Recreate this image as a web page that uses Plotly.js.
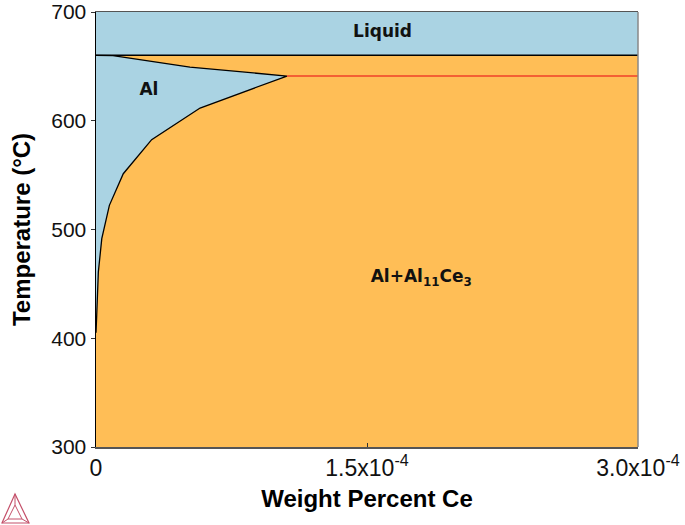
<!DOCTYPE html>
<html><head><meta charset="utf-8">
<script src="https://cdn.plot.ly/plotly-3.0.1.min.js"></script>
<style>html,body{margin:0;padding:0;background:#fff}</style>
</head><body>
<div id="chart" style="width:685px;height:525px"></div>
<script>
// Phase-diagram data (x in weight percent Ce, T in °C)
const xRange = [0, 3.0e-4];
const tRange = [300, 700];
const liquidusT = 660.2;
const eutecticT = 641.1;
const eutecticX = 1.057e-4;
// upper boundary of the Al (fcc) field, from pure Al to eutectic point
const solidusX = [0, 0.094e-4, 0.52e-4, 1.057e-4];
const solidusT = [660.2, 659.8, 649.4, 641.1];
// solvus, from eutectic point down to pure Al
const solvusX = [1.057e-4, 0.576e-4, 0.308e-4, 0.151e-4, 0.074e-4, 0.032e-4, 0.013e-4, 0.004e-4, 0];
const solvusT = [641.1, 611.7, 582.6, 551.3, 522.2, 491.6, 460.9, 421.4, 405];
const xTickVals = [0, 1.5e-4, 3.0e-4];
const xTickText = ['0', '1.5x10<sup>-4</sup>', '3.0x10<sup>-4</sup>'];
const yTickVals = [300, 400, 500, 600, 700];
const regionLabels = ['Liquid', 'Al', 'Al+Al<sub>11</sub>Ce<sub>3</sub>'];
const regionX = [1.586e-4, 0.293e-4, 1.80e-4];
const regionT = [680.7, 628, 455.4];

const blue = '#aad3e3';
const orange = '#ffbe56';

const traces = [
  { // liquid field
    x: [xRange[0], xRange[1], xRange[1], xRange[0], xRange[0]],
    y: [liquidusT, liquidusT, tRange[1], tRange[1], liquidusT],
    mode: 'lines', fill: 'toself', fillcolor: blue,
    line: {width: 0}, hoverinfo: 'skip'
  },
  { // Al field
    x: solidusX.concat(solvusX.slice(1)),
    y: solidusT.concat(solvusT.slice(1)),
    mode: 'lines', fill: 'toself', fillcolor: blue,
    line: {color: '#000', width: 1.3}, hoverinfo: 'skip'
  },
  { // liquidus line
    x: [xRange[0], xRange[1]], y: [liquidusT, liquidusT],
    mode: 'lines', line: {color: '#000', width: 1.5}, hoverinfo: 'skip'
  },
  { // eutectic line
    x: [eutecticX, xRange[1]], y: [eutecticT, eutecticT],
    mode: 'lines', line: {color: '#f0402a', width: 1.5}, hoverinfo: 'skip'
  },
  {
    x: regionX, y: regionT, text: regionLabels, mode: 'text',
    textfont: {family: 'DejaVu Sans', size: 17, color: '#111', weight: 'bold'},
    hoverinfo: 'skip'
  }
];

const T0 = 12, B0 = 447;
function px(x){ return (x - 96) / 542; }
function py(y){ return (B0 - y) / (B0 - T0); }
const logoColor = '#c4506a';
const P = (pts) => 'M' + pts.map(p => px(p[0]) + ',' + py(p[1])).join(' L') + ' Z';

const layout = {
  width: 685, height: 525,
  margin: {l: 96, r: 47, t: T0, b: 525 - B0},
  paper_bgcolor: '#fff',
  plot_bgcolor: orange,
  showlegend: false,
  font: {family: 'Liberation Sans, Arial, sans-serif', color: '#111'},
  xaxis: {
    range: xRange, tickvals: xTickVals, ticktext: xTickText,
    ticks: 'inside', ticklen: 4, tickcolor: '#333',
    showgrid: false, zeroline: false,
    showline: true, linecolor: '#555', linewidth: 1.5, mirror: true,
    ticklabeloverflow: 'allow',
    tickfont: {size: 23, color: '#111'},
    title: {text: 'Weight Percent Ce', font: {size: 24, color: '#000', weight: 'bold'}, standoff: 10}
  },
  yaxis: {
    range: tRange, tickvals: yTickVals,
    ticks: 'outside', ticklen: 4, tickcolor: '#333',
    showgrid: false, zeroline: false,
    showline: true, linecolor: '#000', linewidth: 1.5,
    ticklabeloverflow: 'allow',
    tickfont: {size: 21, color: '#111'},
    title: {text: 'Temperature (°C)', font: {size: 24, color: '#000', weight: 'bold'}, standoff: 14}
  },
  shapes: [
    {type: 'line', xref: 'paper', yref: 'paper', x0: 1, x1: 1, y0: 0, y1: 1,
     line: {color: '#888', width: 1.5}},
    {type: 'path', xref: 'paper', yref: 'paper', path: P([[15,494],[2,523],[29,523]]),
     line: {color: logoColor, width: 1.2}},
    {type: 'path', xref: 'paper', yref: 'paper', path: P([[15,505],[8,519],[22,519]]),
     line: {color: logoColor, width: 1}},
    {type: 'path', xref: 'paper', yref: 'paper', path: 'M' + px(15)+','+py(494)+' L'+px(15)+','+py(505)+' M'+px(2)+','+py(523)+' L'+px(8)+','+py(519)+' M'+px(29)+','+py(523)+' L'+px(22)+','+py(519),
     line: {color: logoColor, width: 1}}
  ]
};

Plotly.newPlot('chart', traces, layout, {displayModeBar: false, staticPlot: true});
</script>
</body></html>
